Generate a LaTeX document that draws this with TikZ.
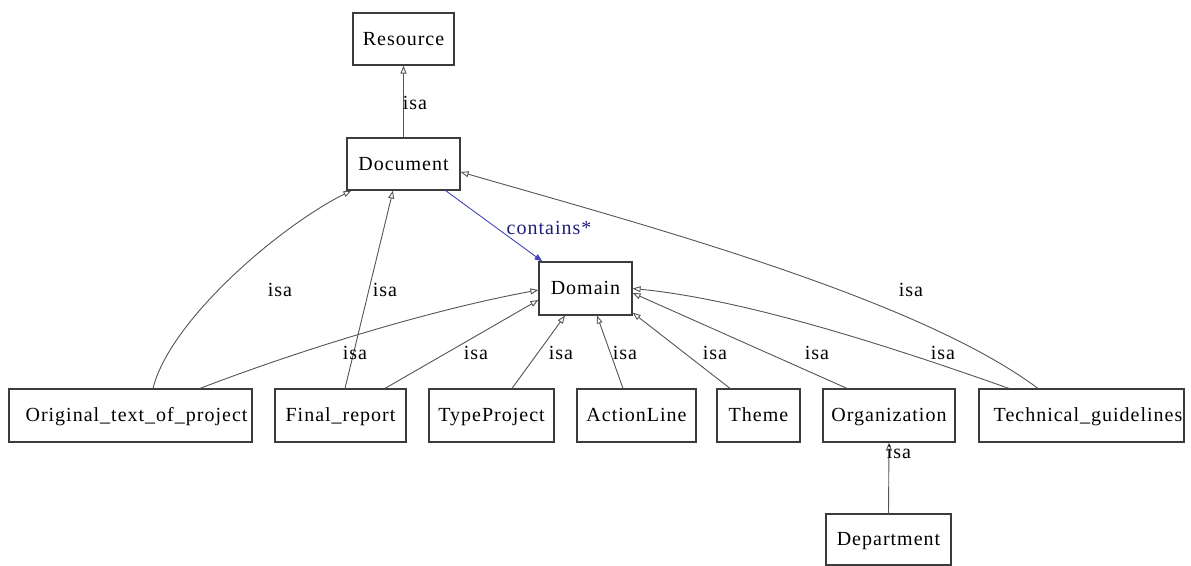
\documentclass[tikz,border=0pt]{standalone}
\usepackage{fontspec}
\setmainfont{Liberation Serif}[LetterSpace=5]
\usetikzlibrary{arrows.meta}
\newcommand{\dfont}{\fontsize{20pt}{24pt}\selectfont}
\definecolor{linegray}{RGB}{85,85,85}
\definecolor{boxgray}{RGB}{60,60,60}
\definecolor{contblue}{RGB}{70,70,190}
\definecolor{contnavy}{RGB}{30,30,120}
\begin{document}
\begin{tikzpicture}[x=1pt,y=-1pt,
  box/.style={draw=boxgray, line width=1.2pt, inner sep=0pt, font=\dfont, fill=white, text height=14pt, text depth=2pt},
  isa/.style={draw=linegray, line width=0.9pt, -{Triangle[open, length=8pt, width=6pt, fill=white]}},
  cont/.style={draw=contblue, line width=0.9pt, -{Triangle[length=8pt, width=6pt]}},
  lbl/.style={font=\dfont, inner sep=0pt}]
\useasboundingbox[fill=white] (0,0) rectangle (1191,565);
% nodes
\node[box, minimum width=101pt, minimum height=52pt] (res) at (403.5,39) {Resource};
\node[box, minimum width=113pt, minimum height=52pt] (doc) at (403.5,164) {Document};
\node[box, minimum width=93pt, minimum height=53pt] (dom) at (585.5,288.5) {Domain};
\node[box, minimum width=243pt, minimum height=53pt] (orig) at (130.5,415.5) {\hspace*{12pt}Original\_text\_of\_project};
\node[box, minimum width=131pt, minimum height=53pt] (fin) at (340.5,415.5) {Final\_report};
\node[box, minimum width=125pt, minimum height=53pt] (typ) at (491.5,415.5) {TypeProject};
\node[box, minimum width=119pt, minimum height=53pt] (act) at (636.5,415.5) {ActionLine};
\node[box, minimum width=83pt, minimum height=53pt] (thm) at (758.5,415.5) {Theme};
\node[box, minimum width=132pt, minimum height=53pt] (org) at (889,415.5) {Organization};
\node[box, minimum width=205pt, minimum height=53pt] (tec) at (1081.5,415.5) {\hspace*{13pt}Technical\_guidelines};
\node[box, minimum width=125pt, minimum height=51pt] (dep) at (888.5,539.5) {Department};
% edges
\draw[isa] (doc.north) -- (res.south);
\node[lbl] (l1) at (415,103) {isa};
\draw[isa] ([xshift=22.5pt]orig.north) .. controls (170,320) and (280,226) .. ([xshift=5pt]doc.south west);
\node[lbl] (l2) at (280,290) {isa};
\draw[isa] ([xshift=4.5pt]fin.north) -- ([xshift=-10.5pt]doc.south);
\node[lbl] (l3) at (385,290) {isa};
\draw[cont] ([xshift=-15pt]doc.south east) -- ([xshift=4pt]dom.north west);
\node[lbl, text=contnavy] (l4) at (549,228) {contains*};
\draw[isa] ([xshift=69.5pt]orig.north) .. controls (300,350) and (430,310) .. ([yshift=-1.5pt]dom.west);
\node[lbl] (l5) at (355,353) {isa};
\draw[isa] ([xshift=44.5pt]fin.north) -- ([yshift=-11.5pt]dom.west);
\node[lbl] (l6) at (476,353) {isa};
\draw[isa] ([xshift=20.5pt]typ.north) -- ([xshift=-20.5pt]dom.south);
\node[lbl] (l7) at (561,353) {isa};
\draw[isa] ([xshift=-13.5pt]act.north) -- ([xshift=11.5pt]dom.south);
\node[lbl] (l8) at (625,353) {isa};
\draw[isa] ([xshift=-28.5pt]thm.north) -- ([yshift=3pt]dom.south east);
\node[lbl] (l9) at (715,353) {isa};
\draw[isa] ([xshift=-42pt]org.north) -- ([yshift=-4.5pt]dom.east);
\node[lbl] (l10) at (817,353) {isa};
\draw[isa] ([xshift=-72.5pt]tec.north) .. controls (900,350) and (750,300) .. (dom.east);
\node[lbl] (l11) at (943,353) {isa};
\draw[isa] ([xshift=-43.5pt]tec.north) .. controls (918,299) and (652,227) .. ([yshift=-8pt]doc.east);
\node[lbl] (l12) at (911,290) {isa};
\draw[isa] (dep.north) -- (org.south);
\node[lbl] (l13) at (899,452) {isa};
\end{tikzpicture}
\end{document}
